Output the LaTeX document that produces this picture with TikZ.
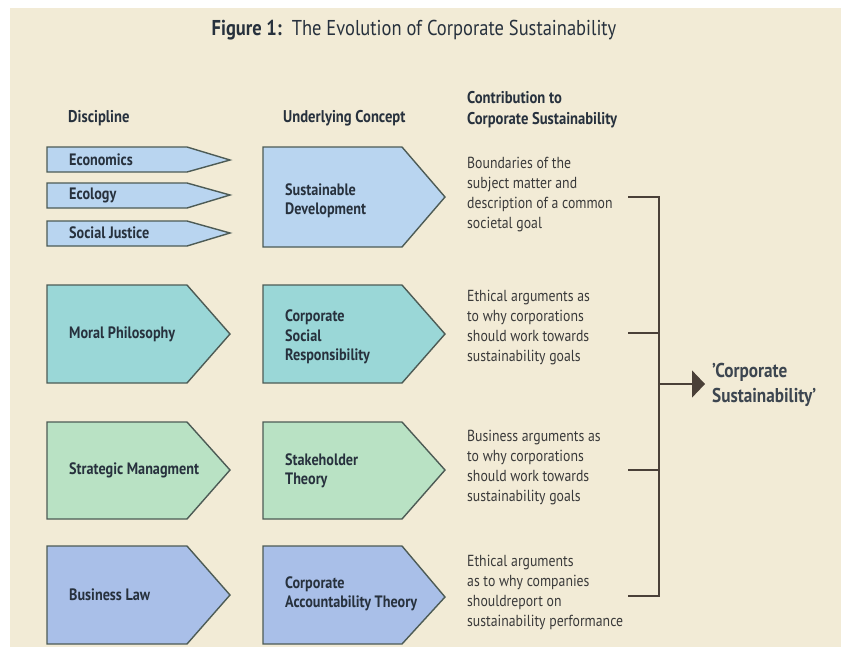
\documentclass[tikz,border=0pt]{standalone}
\usepackage{xcolor}
\usepackage{fontspec}
\setmainfont{PT Sans}[FakeStretch=0.86]
\usepackage{tikz}
\usetikzlibrary{calc}
\usetikzlibrary{arrows.meta}
\definecolor{paper}{HTML}{F2EBD6}
\definecolor{skyfill}{HTML}{B9D5F0}
\definecolor{tealfill}{HTML}{9AD7D7}
\definecolor{mintfill}{HTML}{B9E2C4}
\definecolor{lavfill}{HTML}{A9BFE8}
\definecolor{edge}{HTML}{4D5B55}
\definecolor{ink}{HTML}{27313D}
\definecolor{greytxt}{HTML}{3A3A3A}
\definecolor{brk}{HTML}{4A4038}
\tikzset{
  every node/.style={inner sep=0pt, anchor=west, align=left},
  box/.style={draw=edge, line width=1.4pt, line join=miter},
  lbl/.style={font=\bfseries\fontsize{16.5}{19.5}\selectfont, text=ink},
  head/.style={font=\bfseries\fontsize{17}{21}\selectfont, text=ink},
  note/.style={font=\fontsize{16}{20}\selectfont, text=greytxt},
  brace/.style={draw=brk, line width=1.5pt}
}

\begin{document}
\begin{tikzpicture}[x=1pt,y=-1pt]
                \useasboundingbox (0,0) rectangle (841,649);
                \fill[white] (0,0) rectangle (841,649);
                \fill[paper] (10,8) rectangle (841,647);
                % title and column heads
                \node[anchor=center, font=\fontsize{21.5}{24}\selectfont, text=ink] (title) at (414,30) {\textbf{Figure 1:}\ \ The Evolution of Corporate Sustainability};
                \node[head] (hdisc) at (68,118) {Discipline};
                \node[head] (hconc) at (283,118) {Underlying Concept};
                \node[head] (hcont) at (467,110) {Contribution to\\Corporate Sustainability};
                % disciplines
                \draw[box, fill=skyfill] (47,147) -- (187,147) -- (230,160) -- (187,172) -- (47,172) -- cycle;
                \draw[box, fill=skyfill] (47,183) -- (187,183) -- (230,195) -- (187,208) -- (47,208) -- cycle;
                \draw[box, fill=skyfill] (47,221) -- (187,221) -- (230,233) -- (187,246) -- (47,246) -- cycle;
                \draw[box, fill=tealfill] (47,285) -- (187,285) -- (230,334) -- (187,383) -- (47,383) -- cycle;
                \draw[box, fill=mintfill] (47,422) -- (187,422) -- (230,470) -- (187,519) -- (47,519) -- cycle;
                \draw[box, fill=lavfill] (47,546) -- (187,546) -- (230,595) -- (187,644) -- (47,644) -- cycle;
                \node[lbl] (econ) at (69,160) {Economics};
                \node[lbl] (ecol) at (69,195) {Ecology};
                \node[lbl] (socj) at (69,233) {Social Justice};
                \node[lbl] (moral) at (69,334) {Moral Philosophy};
                \node[lbl] (strat) at (69,470) {Strategic Managment};
                \node[lbl] (law) at (69,595) {Business Law};
                % concepts
                \draw[box, fill=skyfill] (263,147) -- (402,147) -- (445,197) -- (402,247) -- (263,247) -- cycle;
                \draw[box, fill=tealfill] (263,285) -- (402,285) -- (445,334) -- (402,383) -- (263,383) -- cycle;
                \draw[box, fill=mintfill] (263,422) -- (402,422) -- (445,470) -- (402,519) -- (263,519) -- cycle;
                \draw[box, fill=lavfill] (263,546) -- (402,546) -- (445,597) -- (402,644) -- (263,644) -- cycle;
                \node[lbl] (sd) at (285,201) {Sustainable\\Development};
                \node[lbl] (csr) at (285,337) {Corporate\\Social\\Responsibility};
                \node[lbl] (stake) at (285,471) {Stakeholder\\Theory};
                \node[lbl] (cat) at (285,594) {Corporate\\Accountability Theory};
                % contributions
                \node[note] (c1) at (467,195) {Boundaries of the\\subject matter and\\description of a common\\societal goal};
                \node[note] (c2) at (467,328) {Ethical arguments as\\to why corporations\\should work towards\\sustainability goals};
                \node[note] (c3) at (467,468) {Business arguments as\\to why corporations\\should work towards\\sustainability goals};
                \node[note] (c4) at (467,592) {Ethical arguments\\as to why companies\\shouldreport on\\sustainability performance};
                % bracket
                \coordinate (t1) at (628,197);
                \coordinate (t2) at (628,333);
                \coordinate (t3) at (628,470);
                \coordinate (t4) at (628,596);
                \coordinate (b1) at (659,197);
                \coordinate (b2) at (659,333);
                \coordinate (b3) at (659,470);
                \coordinate (b4) at (659,596);
                \coordinate (bm) at (659,384);
                \node[font=\bfseries\fontsize{20}{25}\selectfont, text=ink!90] (cs) at (712,385) {'Corporate\\Sustainability'};
                \draw[brace] (t1) -- (b1) -- (b4) -- (t4);
                \draw[brace] (t2) -- (b2);
                \draw[brace] (t3) -- (b3);
                \draw[brace, -{Triangle[length=13pt,width=27pt]}, shorten >=7pt] (bm) -- (cs.west |- bm);
            \end{tikzpicture}
\end{document}
